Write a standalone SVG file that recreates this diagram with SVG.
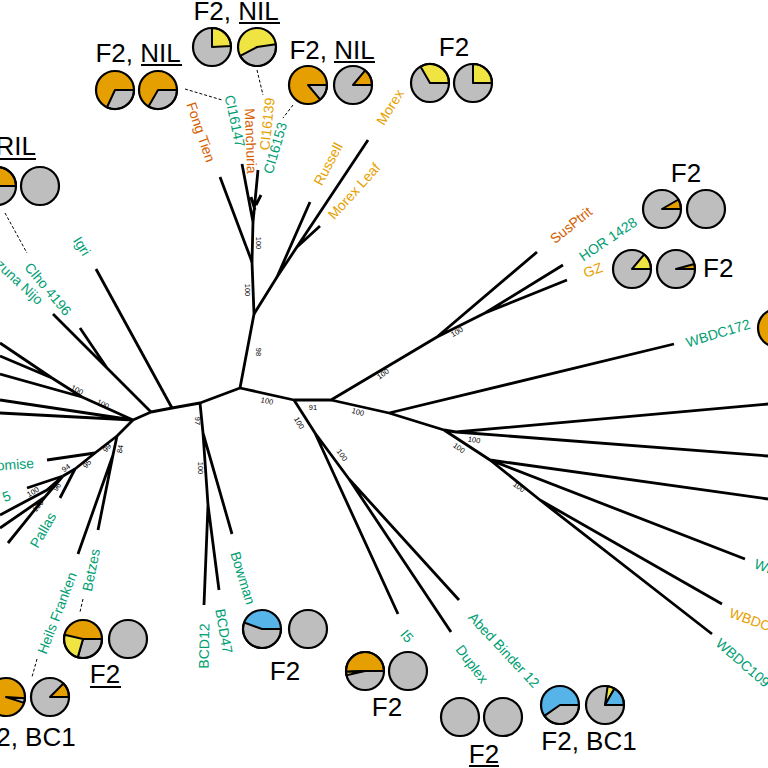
<svg xmlns="http://www.w3.org/2000/svg" width="768" height="768" viewBox="0 0 768 768">
<style>
.br{fill:none;stroke:#000;stroke-width:2.8;stroke-linejoin:round;stroke-linecap:butt}
.dash{fill:none;stroke:#000;stroke-width:1;stroke-dasharray:3 2}
.lf{font-family:"Liberation Sans",Arial,sans-serif;font-size:14px;text-anchor:middle;dominant-baseline:central}
.g{fill:#009E73}.o{fill:#E69F00}.v{fill:#D55E00}
.bs{font-family:"Liberation Sans",Arial,sans-serif;font-size:7.5px;text-anchor:middle;dominant-baseline:central;fill:#000}
.pl{font-family:"Liberation Sans",Arial,sans-serif;font-size:26px;text-anchor:middle;fill:#000}
.ul{stroke:#000;stroke-width:2}
.c{stroke:#000;stroke-width:2.2}
.gr{fill:#BEBEBE}.or{fill:#E69F00}.ye{fill:#F0E442}.bl{fill:#56B4E9}
.w{stroke:#000;stroke-width:2;stroke-linejoin:round}
</style>
<rect width="768" height="768" fill="#fff"/>
<g id="connectors">
<path class="br" d="M240,388 L200,403 L172,408 L151,412 L133,420 L117,436 L95,453 L75,469 L63,476"/>
<path class="br" d="M240,388 L254,314 L252,262 L253,222"/>
<path class="br" d="M252,262 L220,177"/>
<path class="br" d="M253,222 L242,164 M253,222 L258,170 M256,205 L261,195 M255,210 L251,197"/>
<path class="br" d="M254,314 L277,277 L310,202 M277,277 L368,140 M297,247 L320,226"/>
<path class="br" d="M172,408 L96,269"/>
<path class="br" d="M151,412 L53,314 M107,368 L80,328"/>
<path class="br" d="M0,343 L52,378 M0,356 L52,378 L82,397 M0,374 L82,397 L133,420 M0,400 L133,420 M0,413 L133,420"/>
<path class="br" d="M117,436 L113,455 L98,530 M113,455 L78,554"/>
<path class="br" d="M95,453 L47,460"/>
<path class="br" d="M75,469 L60,498"/>
<path class="br" d="M63,476 L27,488 M63,476 L47,490 L0,515 M63,476 L45,497 L0,528 M45,497 L8,543"/>
<path class="br" d="M200,403 L203,433 L208,505 L204,605 M208,505 L219,590 M203,433 L232,534"/>
<path class="br" d="M240,388 L294,400 L331,400 L437,337 L537,252 M437,337 L485,313 L563,265 M485,313 L567,280"/>
<path class="br" d="M331,400 L389,413 L674,344 M389,413 L444,430 L456,432 L768,404 M456,432 L768,456 M444,430 L490,460 L768,499 M490,460 L745,559 M490,460 L540,500 L722,604 M540,500 L712,634"/>
<path class="br" d="M294,400 L315,433 L398,614 M315,433 L349,479 L451,632 M349,479 L459,600"/>
<path class="dash" d="M185,89 L222,100 M257,70 L263,95 M293,105 L283,118 M5,213 L27,253 M83,599 L80,612 M37,659 L32,677"/>
</g>
<g id="bootstrap">
<text class="bs" transform="translate(258,352) rotate(90)">98</text>
<text class="bs" transform="translate(247,290) rotate(90)">100</text>
<text class="bs" transform="translate(258,243) rotate(90)">100</text>
<text class="bs" transform="translate(197,421) rotate(90)">97</text>
<text class="bs" transform="translate(200,468) rotate(90)">100</text>
<text class="bs" transform="translate(267,401) rotate(12)">100</text>
<text class="bs" transform="translate(299,423) rotate(60)">100</text>
<text class="bs" transform="translate(313,407)">91</text>
<text class="bs" transform="translate(358,412) rotate(15)">100</text>
<text class="bs" transform="translate(383,374) rotate(-35)">100</text>
<text class="bs" transform="translate(457,332) rotate(-30)">100</text>
<text class="bs" transform="translate(342,455) rotate(55)">100</text>
<text class="bs" transform="translate(474,440) rotate(10)">100</text>
<text class="bs" transform="translate(459,448) rotate(35)">100</text>
<text class="bs" transform="translate(519,487) rotate(35)">100</text>
<text class="bs" transform="translate(77,390) rotate(28)">100</text>
<text class="bs" transform="translate(103,404) rotate(25)">100</text>
<text class="bs" transform="translate(107,448) rotate(-50)">99</text>
<text class="bs" transform="translate(120,449) rotate(-80)">84</text>
<text class="bs" transform="translate(87,464) rotate(-50)">95</text>
<text class="bs" transform="translate(66,468) rotate(-35)">94</text>
<text class="bs" transform="translate(57,487) rotate(-55)">96</text>
<text class="bs" transform="translate(33,492) rotate(-30)">100</text>
<text class="bs" transform="translate(38,506) rotate(-50)">100</text>
</g>
<g id="n-fongtien"><text class="lf v" transform="translate(201,132) rotate(71)">Fong Tien</text></g>
<g id="n-ci16147"><text class="lf g" transform="translate(235,121) rotate(78)">CI16147</text></g>
<g id="n-manchuria"><text class="lf v" transform="translate(251,141) rotate(88)">Manchuria</text></g>
<g id="n-ci16139"><text class="lf o" transform="translate(267,124) rotate(-84)">CI16139</text></g>
<g id="n-ci16153"><text class="lf g" transform="translate(275,148) rotate(-74)">CI16153</text></g>
<g id="n-russell"><text class="lf o" transform="translate(328,164) rotate(-62)">Russell</text></g>
<g id="n-morexleaf"><text class="lf o" transform="translate(354,191) rotate(-48)">Morex Leaf</text></g>
<g id="n-morex"><text class="lf o" transform="translate(390,107) rotate(-58)">Morex</text></g>
<g id="n-igri"><text class="lf g" transform="translate(82,246) rotate(58)">Igri</text></g>
<g id="n-clho"><text class="lf g" transform="translate(48,289) rotate(50)">Clho 4196</text></g>
<g id="n-azuna"><text class="lf g" style="text-anchor:end" transform="translate(41,302) rotate(43)">Azuna Nijo</text></g>
<g id="n-promise"><text class="lf g" style="text-anchor:end" transform="translate(34,463) rotate(-4)">Promise</text></g>
<g id="n-x5"><text class="lf g" style="text-anchor:end" transform="translate(10,495) rotate(-20)">5</text></g>
<g id="n-pallas"><text class="lf g" transform="translate(43,530) rotate(-60)">Pallas</text></g>
<g id="n-betzes"><text class="lf g" transform="translate(91,570) rotate(-79)">Betzes</text></g>
<g id="n-heils"><text class="lf g" transform="translate(57,613) rotate(-69)">Heils Franken</text></g>
<g id="n-bowman"><text class="lf g" transform="translate(243,578) rotate(73)">Bowman</text></g>
<g id="n-bcd12"><text class="lf g" transform="translate(204,646) rotate(-89)">BCD12</text></g>
<g id="n-bcd47"><text class="lf g" transform="translate(224,631) rotate(80)">BCD47</text></g>
<g id="n-i5"><text class="lf g" transform="translate(407,636) rotate(50)">I5</text></g>
<g id="n-duplex"><text class="lf g" transform="translate(472,664) rotate(53)">Duplex</text></g>
<g id="n-abed"><text class="lf g" transform="translate(504,650) rotate(47)">Abed Binder 12</text></g>
<g id="n-wb"><text class="lf g" style="text-anchor:start" transform="translate(755,563) rotate(20)">WB</text></g>
<g id="n-wbdc1"><text class="lf o" style="text-anchor:start" transform="translate(730,612) rotate(20)">WBDC1</text></g>
<g id="n-wbdc109"><text class="lf g" style="text-anchor:start" transform="translate(718,641) rotate(41)">WBDC109</text></g>
<g id="n-wbdc172"><text class="lf g" transform="translate(718,333) rotate(-17)">WBDC172</text>
<circle class="c or" cx="777" cy="328" r="19"/></g>
<g id="n-gz"><text class="lf o" transform="translate(593,270) rotate(-20)">GZ</text></g>
<g id="n-hor"><text class="lf g" transform="translate(608,239) rotate(-34)">HOR 1428</text></g>
<g id="n-susptrit"><text class="lf v" transform="translate(571,225) rotate(-39)">SusPtrit</text></g>

<g id="pies-g1">
<text class="pl" x="138" y="62">F2, NIL</text><line class="ul" x1="141" y1="65" x2="182" y2="65"/>
<circle class="or" cx="115" cy="90" r="19"/><path class="gr w" d="M115,90 L134,90 A19,19 0 0,1 106.97,107.22 Z"/><circle class="c" fill="none" cx="115" cy="90" r="19"/>
<circle class="or" cx="158" cy="90" r="19"/><path class="gr w" d="M158,90 L177,90 A19,19 0 0,1 148.5,106.45 Z"/><circle class="c" fill="none" cx="158" cy="90" r="19"/>
</g>
<g id="pies-g2">
<text class="pl" x="236" y="20">F2, NIL</text><line class="ul" x1="239" y1="23" x2="280" y2="23"/>
<circle class="gr" cx="212" cy="47" r="19"/><path class="ye w" d="M212,47 L212,28 A19,19 0 0,1 230.97,46.01 Z"/><circle class="c" fill="none" cx="212" cy="47" r="19"/>
<circle class="ye" cx="257" cy="47" r="19"/><path class="gr w" d="M257,47 L275.82,44.36 A19,19 0 0,1 240.22,55.92 Z"/><circle class="c" fill="none" cx="257" cy="47" r="19"/>
</g>
<g id="pies-g3">
<text class="pl" x="332" y="59">F2, NIL</text><line class="ul" x1="334" y1="62" x2="375" y2="62"/>
<circle class="or" cx="308" cy="85" r="19"/><path class="gr w" d="M308,85 L327,85 A19,19 0 0,1 320.21,99.55 Z"/><circle class="c" fill="none" cx="308" cy="85" r="19"/>
<circle class="gr" cx="353" cy="85" r="19"/><path class="or w" d="M353,85 L365.21,70.45 A19,19 0 0,1 372,85 Z"/><circle class="c" fill="none" cx="353" cy="85" r="19"/>
</g>
<g id="pies-g4">
<text class="pl" x="454" y="56">F2</text>
<circle class="gr" cx="430" cy="83" r="19"/><path class="ye w" d="M430,83 L420.5,66.55 A19,19 0 0,1 449,83 Z"/><circle class="c" fill="none" cx="430" cy="83" r="19"/>
<circle class="gr" cx="473" cy="83" r="19"/><path class="ye w" d="M473,83 L473,64 A19,19 0 0,1 492,83 Z"/><circle class="c" fill="none" cx="473" cy="83" r="19"/>
</g>
<g id="pies-g5">
<text class="pl" x="686" y="182">F2</text>
<circle class="gr" cx="662" cy="209" r="19"/><path class="or w" d="M662,209 L678.45,199.5 A19,19 0 0,1 681,209 Z"/><circle class="c" fill="none" cx="662" cy="209" r="19"/>
<circle class="c gr" cx="706" cy="209" r="19"/>
</g>
<g id="pies-g6">
<text class="pl" style="text-anchor:start" x="703" y="277">F2</text>
<circle class="gr" cx="632" cy="269" r="19"/><path class="ye w" d="M632,269 L644.21,254.45 A19,19 0 0,1 651,269 Z"/><circle class="c" fill="none" cx="632" cy="269" r="19"/>
<circle class="gr" cx="676" cy="269" r="19"/><path class="or w" d="M676,269 L694.35,264.08 A19,19 0 0,1 695,269 Z"/><circle class="c" fill="none" cx="676" cy="269" r="19"/>
</g>
<g id="pies-g8">
<text class="pl" x="589" y="750">F2, BC1</text>
<circle class="bl" cx="560" cy="705" r="19"/><path class="gr w" d="M560,705 L579,705 A19,19 0 0,1 544.44,715.9 Z"/><circle class="c" fill="none" cx="560" cy="705" r="19"/>
<circle class="gr" cx="605" cy="705" r="19"/><path class="ye w" d="M605,705 L607.64,686.18 A19,19 0 0,1 614.5,688.55 Z"/><path class="bl w" d="M605,705 L614.5,688.55 A19,19 0 0,1 624,705 Z"/><circle class="c" fill="none" cx="605" cy="705" r="19"/>
</g>
<g id="pies-g9">
<text class="pl" x="484" y="763">F2</text><line class="ul" x1="469" y1="766" x2="499" y2="766"/>
<circle class="c gr" cx="460" cy="717" r="19"/>
<circle class="c gr" cx="503" cy="717" r="19"/>
</g>
<g id="pies-g10">
<text class="pl" x="387" y="716">F2</text>
<circle class="gr" cx="365" cy="671" r="19"/><path class="or w" d="M365,671 L346.01,671.66 A19,19 0 1,1 384,671 Z"/><path class="ye w" d="M365,671 L346.49,675.27 A19,19 0 0,1 346.01,671.66 Z"/><circle class="c" fill="none" cx="365" cy="671" r="19"/>
<circle class="c gr" cx="408" cy="671" r="19"/>
</g>
<g id="pies-g11">
<text class="pl" x="285" y="680">F2</text>
<circle class="bl" cx="262" cy="629" r="19"/><path class="gr w" d="M262,629 L281,629 A19,19 0 1,1 244.15,622.5 Z"/><circle class="c" fill="none" cx="262" cy="629" r="19"/>
<circle class="c gr" cx="308" cy="629" r="19"/>
</g>
<g id="pies-betzes">
<text class="pl" x="105" y="683">F2</text><line class="ul" x1="90" y1="687" x2="121" y2="687"/>
<circle class="or" cx="83" cy="639" r="19"/><path class="gr w" d="M83,639 L102,639 A19,19 0 0,1 77.76,657.26 Z"/><path class="ye w" d="M83,639 L77.76,657.26 A19,19 0 0,1 64.49,634.73 Z"/><circle class="c" fill="none" cx="83" cy="639" r="19"/>
<circle class="c gr" cx="128" cy="639" r="19"/>
</g>
<g id="pies-heils">
<text class="pl" x="28" y="746">F2, BC1</text>
<circle class="or" cx="6" cy="697" r="19"/><path class="gr w" d="M6,697 L24.95,698.33 A19,19 0 0,1 24.07,702.87 Z"/><circle class="c" fill="none" cx="6" cy="697" r="19"/>
<circle class="gr" cx="50" cy="697" r="19"/><path class="or w" d="M50,697 L63.43,683.57 A19,19 0 0,1 69,697 Z"/><circle class="c" fill="none" cx="50" cy="697" r="19"/>
</g>
<g id="pies-clho">
<text class="pl" style="text-anchor:end" x="36" y="155">RIL</text><line class="ul" x1="0" y1="159" x2="36" y2="159"/>
<circle class="gr" cx="-3" cy="186" r="19"/><path class="or w" d="M-3,186 L-22,186 A19,19 0 0,1 16,186 Z"/><circle class="c" fill="none" cx="-3" cy="186" r="19"/>
<circle class="c gr" cx="40" cy="186" r="19"/>
</g>
</svg>
